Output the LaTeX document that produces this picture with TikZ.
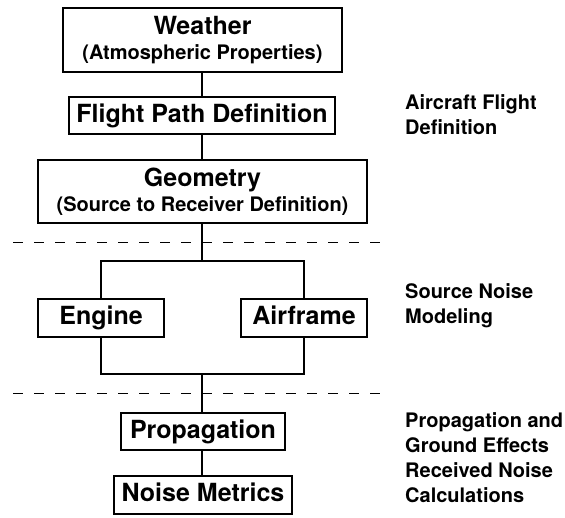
\documentclass[tikz,border=0pt]{standalone}
\usepackage{fontspec}
\setmainfont{TeX Gyre Heros}
\begin{document}
\begin{tikzpicture}[x=1pt,y=-1pt,
  box/.style={draw,line width=1.2pt,inner sep=0pt,align=center,
    font=\bfseries\fontsize{20}{25}\selectfont},
  onebox/.style={box,font=\bfseries\fontsize{25}{25}\selectfont,
    text height=18.5pt,text depth=5.5pt},
  wire/.style={line width=1.2pt},
  divider/.style={line width=1pt,dash pattern=on 10pt off 11pt},
  sidelabel/.style={anchor=north west,inner sep=0pt,align=left,
    font=\bfseries\fontsize{20}{25}\selectfont}]
\useasboundingbox (0,0) rectangle (565,517);

% processing chain
\node[box,minimum width=279pt,minimum height=64pt] (weather) at (202.5,40)
  {{\fontsize{25}{25}\selectfont Weather}\\(Atmospheric Properties)};
\node[onebox,minimum width=266pt,minimum height=37pt] (flight) at (202,115.5)
  {Flight Path Definition};
\node[box,minimum width=329pt,minimum height=63pt] (geom) at (202.5,191.5)
  {{\fontsize{25}{25}\selectfont Geometry}\\(Source to Receiver Definition)};
\node[onebox,minimum width=126pt,minimum height=38pt] (engine) at (101,318) {Engine};
\node[onebox,minimum width=126pt,minimum height=38pt] (airframe) at (304,318) {Airframe};
\node[onebox,minimum width=164pt,minimum height=37pt] (prop) at (203,431.5) {Propagation};
\node[onebox,minimum width=178pt,minimum height=38pt] (metrics) at (203,495) {Noise Metrics};

% branch points of the source split
\coordinate (split) at (202,261);
\coordinate (join) at (202,374);

\draw[wire] (weather.south -| split) -- (flight.north -| split);
\draw[wire] (flight.south -| split) -- (geom.north -| split);
\draw[wire] (geom.south -| split) -- (split);
\draw[wire] (engine.north) |- (split) -| (airframe.north);
\draw[wire] (engine.south) |- (join) -| (airframe.south);
\draw[wire] (join) -- (prop.north -| join);
\draw[wire] (prop.south -| join) -- (metrics.north -| join);

% stage separators
\coordinate (d1a) at (13,242);
\coordinate (d1b) at (387,242);
\coordinate (d2a) at (13,393);
\coordinate (d2b) at (387,393);
\draw[divider] (d1a) -- (d1b);
\draw[divider] (d2a) -- (d2b);

% stage labels
\node[sidelabel] (lab1) at (405,94.6) {Aircraft Flight\\Definition};
\node[sidelabel] (lab2) at (405,283.6) {Source Noise\\Modeling};
\node[sidelabel] (lab3) at (405,412.6) {Propagation and\\Ground Effects};
\node[sidelabel] (lab4) at (405,462.6) {Received Noise\\Calculations};
\end{tikzpicture}
\end{document}
